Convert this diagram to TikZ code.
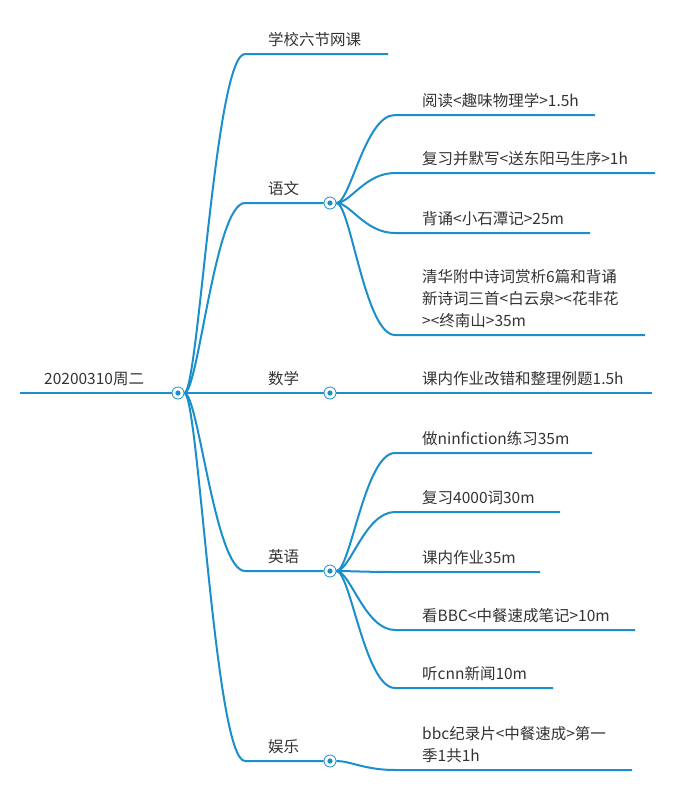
\documentclass[tikz,border=0pt]{standalone}
\usepackage{fontspec}
\setmainfont{Noto Sans CJK SC}
\usetikzlibrary{positioning}
\definecolor{mapblue}{HTML}{1A8FCB}
\definecolor{maptext}{HTML}{333333}
\tikzset{
    branch/.style={draw=mapblue, line width=2pt},
    hub/.style={circle, draw=mapblue, fill=white, line width=0.8pt, minimum size=12pt, inner sep=0pt,
        path picture={\fill[mapblue] (path picture bounding box.center) circle (2.6pt);}},
    topic/.style={anchor=south west, inner sep=0pt, text=maptext, font=\fontsize{15.5pt}{22pt}\selectfont, align=left},
}
% curved connector from hub to the start of a line
\newcommand{\twig}[3]{\path[branch] (#1.east) .. controls ($(#1.east)+(14,0)$) and ($(#2)+(-30,0)$) .. (#2) -- (#3);}
\usetikzlibrary{calc}
\begin{document}
\begin{tikzpicture}[x=1pt, y=-1pt]
    \useasboundingbox (0,0) rectangle (688,790);

    % root
    \coordinate (rootL) at (20,393);
    \node[hub] (root) at (178,393) {};
    \path[branch] (rootL) -- (root.west);
    \node[topic] at (44,386) {20200310周二};

    % first level
    \coordinate (w0) at (245,54);   \coordinate (w1) at (388,54);
    \coordinate (y0) at (245,203);  \node[hub] (yw) at (330,203) {};
    \coordinate (s0) at (245,393);  \node[hub] (sx) at (330,393) {};
    \coordinate (e0) at (245,571);  \node[hub] (yy) at (330,571) {};
    \coordinate (l0) at (245,761);  \node[hub] (yl) at (330,761) {};

    \twig{root}{w0}{w1}
    \twig{root}{y0}{yw.west}
    \path[branch] (root.east) -- (sx.west);
    \twig{root}{e0}{yy.west}
    \twig{root}{l0}{yl.west}

    \node[topic] at (268,47) {学校六节网课};
    \node[topic] at (268,196) {语文};
    \node[topic] at (268,386) {数学};
    \node[topic] at (268,564) {英语};
    \node[topic] at (268,754) {娱乐};

    % second level: yuwen
    \foreach \n/\y/\e in {a/115/595, b/173/655, c/233/590, d/335/645} {
        \coordinate (yw\n0) at (395,\y);
        \coordinate (yw\n1) at (\e,\y);
        \twig{yw}{yw\n0}{yw\n1}
    }
    \node[topic] at (422,108) {阅读<趣味物理学>1.5h};
    \node[topic] at (422,166) {复习并默写<送东阳马生序>1h};
    \node[topic] at (422,226) {背诵<小石潭记>25m};
    \node[topic] at (422,328) {清华附中诗词赏析6篇和背诵\\新诗词三首<白云泉><花非花\\><终南山>35m};

    % shuxue
    \coordinate (sx1) at (652,393);
    \path[branch] (sx.east) -- (sx1);
    \node[topic] at (422,386) {课内作业改错和整理例题1.5h};

    % yingyu
    \foreach \n/\y/\e in {a/453/592, b/512/560, c/572/540, d/630/635, e/688/553} {
        \coordinate (yy\n0) at (395,\y);
        \coordinate (yy\n1) at (\e,\y);
        \twig{yy}{yy\n0}{yy\n1}
    }
    \node[topic] at (422,446) {做ninfiction练习35m};
    \node[topic] at (422,505) {复习4000词30m};
    \node[topic] at (422,565) {课内作业35m};
    \node[topic] at (422,623) {看BBC<中餐速成笔记>10m};
    \node[topic] at (422,681) {听cnn新闻10m};

    % yule
    \coordinate (yla0) at (395,770);
    \coordinate (yla1) at (632,770);
    \twig{yl}{yla0}{yla1}
    \node[topic] at (422,763) {bbc纪录片<中餐速成>第一\\季1共1h};
\end{tikzpicture}
\end{document}
